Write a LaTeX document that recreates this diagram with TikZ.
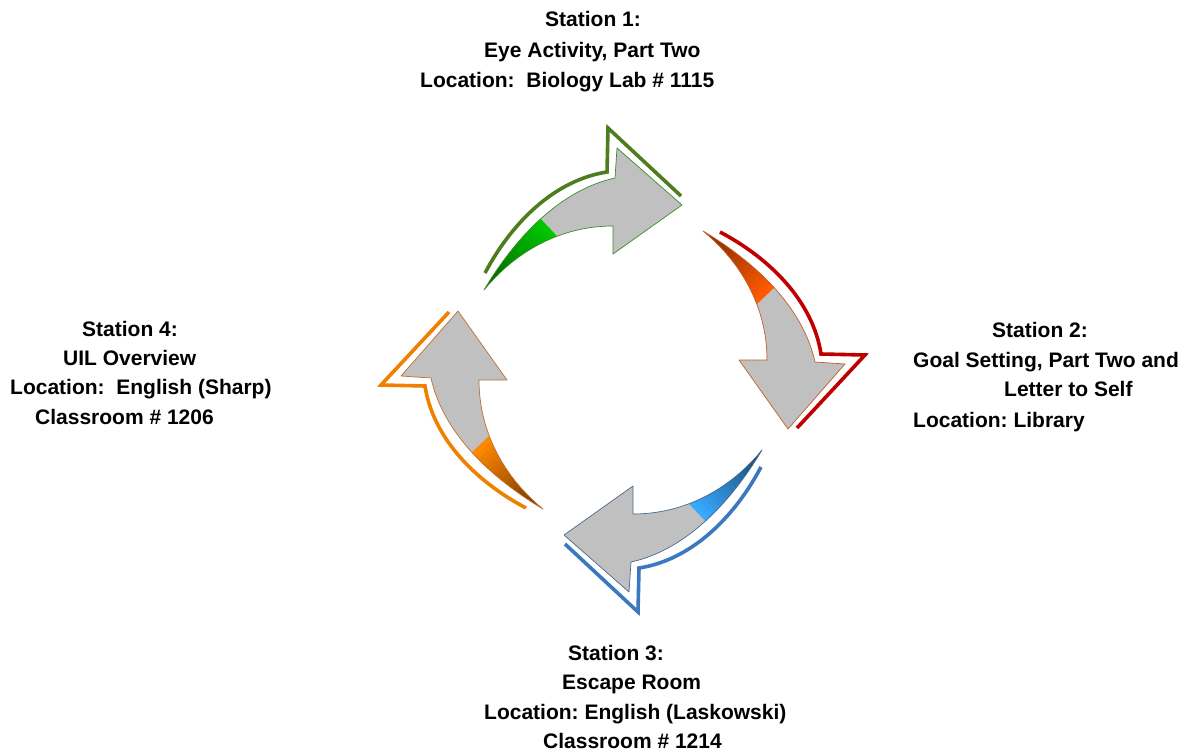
\documentclass[tikz,border=0pt]{standalone}
\usepackage{fontspec}
\setmainfont{Liberation Sans}
\definecolor{bodygray}{HTML}{C0C0C0}
\definecolor{gOut}{HTML}{4E7D1E}
\definecolor{gBor}{HTML}{3C8C2C}
\definecolor{gDark}{HTML}{005000}
\definecolor{gBright}{HTML}{00C800}
\definecolor{rOut}{HTML}{C00000}
\definecolor{rBor}{HTML}{C0602A}
\definecolor{rDark}{HTML}{6A2000}
\definecolor{rBright}{HTML}{FF5A00}
\definecolor{bOut}{HTML}{3A78C0}
\definecolor{bBor}{HTML}{4A6A8A}
\definecolor{bDark}{HTML}{103A60}
\definecolor{bBright}{HTML}{38AAFF}
\definecolor{oOut}{HTML}{F08000}
\definecolor{oBor}{HTML}{C07030}
\definecolor{oDark}{HTML}{5A2800}
\definecolor{oBright}{HTML}{FF8800}
\def\bodypath{(484,290) .. controls (515,238) and (560,190) .. (615,178) -- (617,148) -- (682,205) -- (613,254) -- (613,226) .. controls (560,226) and (515,252) .. (484,290) -- cycle}
\newcommand{\cyclearrow}[5]{%
\begin{scope}[rotate around={#1:(623,370)}]
 \draw[outl, #2] (485,273) .. controls (512,222) and (555,180) .. (607,172) -- (608,128) -- (681,196);
 \fill[bodygray] \bodypath;
 \begin{scope}
  \clip \bodypath;
  \begin{scope}[shift={(537,215)}]
   \foreach \i in {0,...,19}{%
    \pgfmathsetmacro\da{\i*5}%
    \pgfmathsetmacro\db{\i*5+6+(\i==19)*40}%
    \pgfmathtruncatemacro\pct{\i*100/19}%
    \fill[#4!\pct!#5] ({\da*-0.726+150*0.687},{\da*0.688+150*0.725}) -- ({\da*-0.726-150*0.687},{\da*0.688-150*0.725}) -- ({\db*-0.726-150*0.687},{\db*0.688-150*0.725}) -- ({\db*-0.726+150*0.687},{\db*0.688+150*0.725}) -- cycle;
   }
  \end{scope}
 \end{scope}
 \draw[#3, line width=0.7pt, line join=round] \bodypath;
\end{scope}}
\begin{document}
\begin{tikzpicture}[x=1pt,y=-1pt,
  lbl/.style={anchor=base west, inner sep=0pt, font=\fontsize{21}{25}\selectfont\bfseries\frenchspacing},
  outl/.style={line width=3.6pt, line join=miter, line cap=butt}]
\fill[white] (0,0) rectangle (1188,751);
\useasboundingbox (0,0) rectangle (1188,751);

\cyclearrow{0}{gOut}{gBor}{gDark}{gBright}
\cyclearrow{-90}{rOut}{rBor}{rDark}{rBright}
\cyclearrow{180}{bOut}{bBor}{bDark}{bBright}
\cyclearrow{90}{oOut}{oBor}{oDark}{oBright}

% Station 1
\node[lbl] (s1a) at (545,27) {Station 1:};
\node[lbl] (s1b) at (484,58) {Eye Activity, Part Two};
\node[lbl] (s1c) at (420,88) {Location:\ \ Biology Lab \# 1115};
% Station 2
\node[lbl] (s2a) at (992,337) {Station 2:};
\node[lbl] (s2b) at (913,367) {Goal Setting, Part Two and};
\node[lbl] (s2c) at (1004,396) {Letter to Self};
\node[lbl] (s2d) at (913,427) {Location: Library};
% Station 3
\node[lbl] (s3a) at (568,660) {Station 3:};
\node[lbl] (s3b) at (562,689) {Escape Room};
\node[lbl] (s3c) at (484,719) {Location: English (Laskowski)};
\node[lbl] (s3d) at (543,748) {Classroom \# 1214};
% Station 4
\node[lbl] (s4a) at (82,336) {Station 4:};
\node[lbl] (s4b) at (63,365) {UIL Overview};
\node[lbl] (s4c) at (10,394) {Location:\ \ English (Sharp)};
\node[lbl] (s4d) at (35,424) {Classroom \# 1206};
\end{tikzpicture}
\end{document}
